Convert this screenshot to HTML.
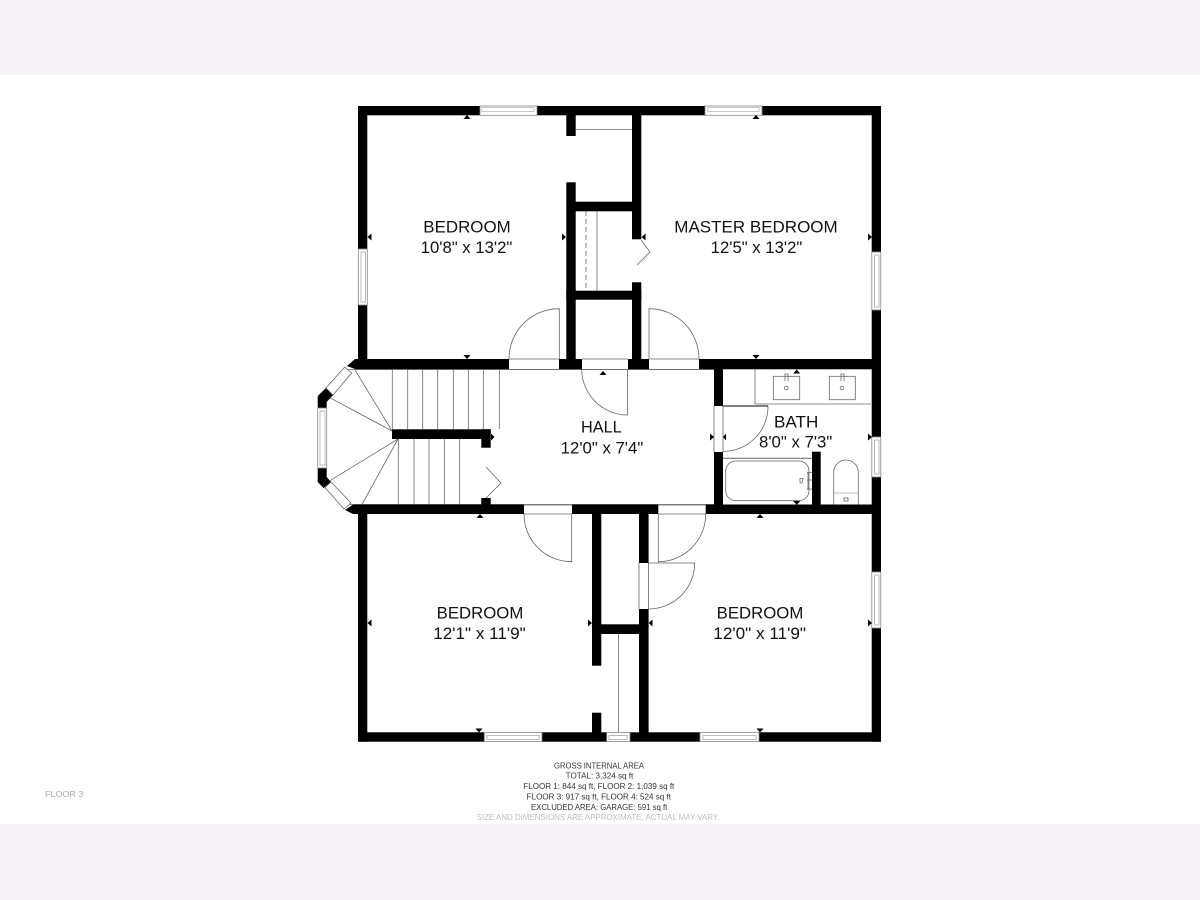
<!DOCTYPE html>
<html><head><meta charset="utf-8"><style>html,body{margin:0;padding:0;background:#fff}svg{display:block}text{font-family:"Liberation Sans",sans-serif}</style></head>
<body>
<svg width="1200" height="900" viewBox="0 0 1200 900" xmlns="http://www.w3.org/2000/svg">
<rect width="1200" height="900" fill="#fff"/>
<rect width="1200" height="75" fill="#f5f3f7"/>
<rect y="824" width="1200" height="76" fill="#f5f3f7"/>

<!-- thin fixtures under walls -->
<g fill="none" stroke="#666" stroke-width="0.8">
<!-- closet -->
<path d="M576 129.5H632"/>
<path d="M586 211V291" stroke-dasharray="5 3"/>
<path d="M597 211V291"/>
<path d="M618.5 634V732"/>
<!-- thresholds -->
<path d="M509 359H559M509 369.5H559M582 359H628M582 369.5H628M649 359H699M649 369.5H699"/>
<path d="M347 369.5H714M345 504.5H714"/>
<path d="M524 505H572M524 514H572M658 505H706M658 514H706"/>
<path d="M714 406V452M723 406V452M639 563V609M648.5 563V609"/>
<!-- door swings -->
<path d="M559.3 359V308.7A50 50 0 0 0 509 359"/>
<path d="M649 359V308.7A50 50 0 0 1 699 359"/>
<path d="M627.5 369V415A46 46 0 0 1 581.7 369"/>
<path d="M571.7 514V561.7A47.5 47.5 0 0 1 524 514"/>
<path d="M658.3 514V561.7A47.5 47.5 0 0 0 705.7 514"/>
<path d="M648.6 563H694.7A46 46 0 0 1 648.6 609"/>
<path d="M723 451.5A45 45 0 0 0 768 406"/>
<!-- bifold -->
<path d="M641 240L650 252L637 265"/>
<path d="M486 467L501 483L486 498"/>
<!-- stairs -->
<path d="M392.3 370V429M407.7 370V429M422.7 370V429M437.7 370V429M453.3 370V429M468.3 370V429M483.3 370V429M499.3 370V429"/>
<path d="M398.3 439V504M414 439V504M429 439V504M444.3 439V504M459.7 439V504"/>
<path d="M392 431L355 370M392 431L328 396.7M398 439L330 480.7M398 439L361.7 505"/>
<!-- vanity -->
<path d="M755 369V404H871" stroke="#666"/>
<rect x="773.3" y="376.3" width="26.4" height="23.4"/>
<rect x="829.3" y="376.3" width="26" height="23.4"/>
<circle cx="786.3" cy="388" r="1.8"/><circle cx="842" cy="388" r="1.8"/>
<path d="M785 381V374H788V381M841 381V374H844V381"/>
<!-- tub -->
<path d="M723 458.3H812" stroke-width="1"/>
<rect x="725.7" y="461" width="83.3" height="39.7" rx="10" ry="10"/>
<path d="M807 472.5H812M807 480H812M807 489H812M808 472V490"/>
<path d="M800 478.5H803L802 483H800Z"/>
<!-- toilet -->
<path d="M833.7 505V472.3A12.3 12.3 0 0 1 858.3 472.3V505"/>
<path d="M833.7 493H858.3" stroke="#aaa"/>
<rect x="844" y="498" width="4" height="3"/>
</g>
<path d="M723 406H768" stroke="#000" stroke-width="0.9"/>

<!-- walls -->
<g fill="#000">
<rect x="358" y="106" width="122" height="9.3"/>
<rect x="537" y="106" width="168" height="9.3"/>
<rect x="762" y="106" width="119" height="9.3"/>
<rect x="358" y="106" width="9.3" height="143"/>
<rect x="358" y="305" width="9.3" height="56"/>
<rect x="871.7" y="106" width="9.3" height="146"/>
<rect x="871.7" y="310" width="9.3" height="127"/>
<rect x="871.7" y="477" width="9.3" height="95"/>
<rect x="871.7" y="628" width="9.3" height="113.7"/>
<rect x="358" y="514" width="9.3" height="227.7"/>
<rect x="358" y="732.3" width="126.3" height="9.4"/>
<rect x="542" y="732.3" width="64.7" height="9.4"/>
<rect x="630" y="732.3" width="70" height="9.4"/>
<rect x="759" y="732.3" width="122" height="9.4"/>
<!-- hall top -->
<rect x="355" y="359" width="154" height="10.3"/>
<polygon points="355,359 355,369 347,366"/>
<rect x="559" y="359" width="23" height="10.3"/>
<rect x="628" y="359" width="21" height="10.3"/>
<rect x="699" y="359" width="182" height="10.3"/>
<!-- hall bottom -->
<polygon points="353,504.5 353,514 345,510"/>
<rect x="353" y="504.5" width="171" height="9.5"/>
<rect x="572" y="504.5" width="86.3" height="9.5"/>
<rect x="705.7" y="504.5" width="175.3" height="9.5"/>
<!-- closet walls -->
<rect x="566.3" y="115" width="9.4" height="21"/>
<rect x="566.3" y="182.3" width="9.4" height="177"/>
<rect x="575" y="201.7" width="58" height="9.6"/>
<rect x="632" y="115" width="9.3" height="124.3"/>
<rect x="632" y="282.3" width="9.3" height="77"/>
<rect x="566.3" y="290.7" width="75" height="9"/>
<!-- bay -->
<polygon points="317.7,396 326,388 333,395 326.7,402 326.7,408 317.7,408"/>
<polygon points="317.7,467.7 326.7,467.7 326.7,477 331,482 323.5,488 317.7,482"/>
<!-- stair wall -->
<rect x="392" y="429.3" width="98.7" height="9.7"/>
<rect x="481.3" y="429.3" width="9.4" height="18.4"/>
<rect x="481.3" y="498" width="9.4" height="7"/>
<!-- bath walls -->
<rect x="714" y="369" width="9" height="37"/>
<rect x="714" y="452" width="9" height="53"/>
<rect x="812" y="451.7" width="8.7" height="53.3"/>
<!-- lower closets -->
<rect x="592" y="514" width="9.3" height="151.7"/>
<rect x="592" y="712.7" width="9.3" height="20"/>
<rect x="639" y="514" width="9.6" height="49"/>
<rect x="639" y="609" width="9.6" height="124"/>
<rect x="600.5" y="624.3" width="39" height="9.7"/>
</g>

<!-- windows -->
<g fill="#fff" stroke="#888" stroke-width="0.8">
<rect x="480" y="106" width="57" height="9.3"/><rect x="482" y="107.5" width="52" height="4" stroke="#bbb"/>
<rect x="705" y="106" width="57" height="9.3"/><rect x="708" y="107.5" width="51" height="4" stroke="#bbb"/>
<rect x="358.3" y="249" width="9" height="56"/><rect x="361" y="252" width="4.5" height="50" stroke="#aaa"/>
<rect x="871.8" y="252" width="9" height="58"/><rect x="874.5" y="255" width="4.5" height="52" stroke="#aaa"/>
<rect x="871.8" y="437" width="9" height="40"/><rect x="874.5" y="440" width="4.5" height="34" stroke="#aaa"/>
<rect x="871.8" y="572" width="9" height="56"/><rect x="874.5" y="575" width="4.5" height="50" stroke="#aaa"/>
<rect x="317.7" y="408" width="9" height="60"/><rect x="320" y="411" width="5" height="54" stroke="#aaa"/>
<rect x="484.3" y="732.5" width="57.7" height="9"/><rect x="487" y="735.5" width="52" height="4" stroke="#aaa"/>
<rect x="606.7" y="732.5" width="23.3" height="9"/><rect x="609" y="735.5" width="18" height="4" stroke="#aaa"/>
<rect x="700" y="732.5" width="59" height="9"/><rect x="703" y="735.5" width="53" height="4" stroke="#aaa"/>
<polygon points="344.7,367 351.7,373 333,395 326,388" stroke="#666"/>
<polygon points="325,487.5 331,482 351,503 344,509" stroke="#666"/>
</g>

<!-- dimension ticks -->
<g fill="#000">
<polygon points="463.5,119 470.5,119 467,115"/><polygon points="752.5,119 759.5,119 756,115"/>
<polygon points="463.5,355 470.5,355 467,359"/><polygon points="752.5,355 759.5,355 756,359"/>
<polygon points="371.5,233.5 371.5,240.5 367.5,237"/><polygon points="562,233.5 562,240.5 566,237"/>
<polygon points="645.5,233.5 645.5,240.5 641.5,237"/><polygon points="868,233.5 868,240.5 872,237"/>
<polygon points="599.5,375 606.5,375 603,371"/><polygon points="793.2,373.5 800.2,373.5 796.7,369.5"/>
<polygon points="710,433.5 710,440.5 714,437"/><polygon points="726,433.5 726,440.5 723,437"/>
<polygon points="868,433.5 868,440.5 872,437"/><polygon points="491,433.5 491,440.5 494.5,437"/>
<polygon points="793.2,501 800.2,501 796.7,505"/>
<polygon points="476.5,518 483.5,518 480,514"/><polygon points="756.5,518 763.5,518 760,514"/>
<polygon points="475.5,728.5 482.5,728.5 479,732.5"/><polygon points="756.5,728.5 763.5,728.5 760,732.5"/>
<polygon points="371.5,619.5 371.5,626.5 367.5,623"/><polygon points="588,619.5 588,626.5 592,623"/>
<polygon points="652.5,619.5 652.5,626.5 648.7,623"/><polygon points="868,619.5 868,626.5 872,623"/>
</g>

<!-- room labels -->
<g fill="#111" font-size="16.5">
<text x="423.3" y="232.7" textLength="87.4" lengthAdjust="spacingAndGlyphs">BEDROOM</text>
<text x="420.7" y="253" textLength="91.6" lengthAdjust="spacingAndGlyphs">10'8" x 13'2"</text>
<text x="674.3" y="232.7" textLength="163.4" lengthAdjust="spacingAndGlyphs">MASTER BEDROOM</text>
<text x="710.7" y="253" textLength="91.6" lengthAdjust="spacingAndGlyphs">12'5" x 13'2"</text>
<text x="581" y="432.7" textLength="40.7" lengthAdjust="spacingAndGlyphs">HALL</text>
<text x="560.7" y="453.3" textLength="82.6" lengthAdjust="spacingAndGlyphs">12'0" x 7'4"</text>
<text x="774" y="427.3" textLength="44.3" lengthAdjust="spacingAndGlyphs">BATH</text>
<text x="759" y="447.7" textLength="73.3" lengthAdjust="spacingAndGlyphs">8'0" x 7'3"</text>
<text x="436.7" y="618.7" textLength="86.6" lengthAdjust="spacingAndGlyphs">BEDROOM</text>
<text x="433.3" y="638.8" textLength="92.4" lengthAdjust="spacingAndGlyphs">12'1" x 11'9"</text>
<text x="716.7" y="618.7" textLength="86.6" lengthAdjust="spacingAndGlyphs">BEDROOM</text>
<text x="713.3" y="638.8" textLength="92.7" lengthAdjust="spacingAndGlyphs">12'0" x 11'9"</text>
</g>

<!-- footer -->
<g fill="#333" font-size="8">
<text x="554" y="768.3" textLength="90" lengthAdjust="spacingAndGlyphs">GROSS INTERNAL AREA</text>
<text x="565.7" y="778.7" textLength="67.6" lengthAdjust="spacingAndGlyphs">TOTAL: 3,324 sq ft</text>
<text x="523.3" y="789" textLength="151" lengthAdjust="spacingAndGlyphs">FLOOR 1: 844 sq ft, FLOOR 2: 1,039 sq ft</text>
<text x="526.7" y="799.5" textLength="144.3" lengthAdjust="spacingAndGlyphs">FLOOR 3: 917 sq ft, FLOOR 4: 524 sq ft</text>
<text x="531" y="810" textLength="136.3" lengthAdjust="spacingAndGlyphs">EXCLUDED AREA: GARAGE: 591 sq ft</text>
<text x="476.7" y="820" textLength="242.6" lengthAdjust="spacingAndGlyphs" fill="#bdbdbd">SIZE AND DIMENSIONS ARE APPROXIMATE, ACTUAL MAY VARY.</text>
<text x="45" y="797" textLength="38.3" lengthAdjust="spacingAndGlyphs" fill="#aaa">FLOOR 3</text>
</g>
</svg>
</body></html>
